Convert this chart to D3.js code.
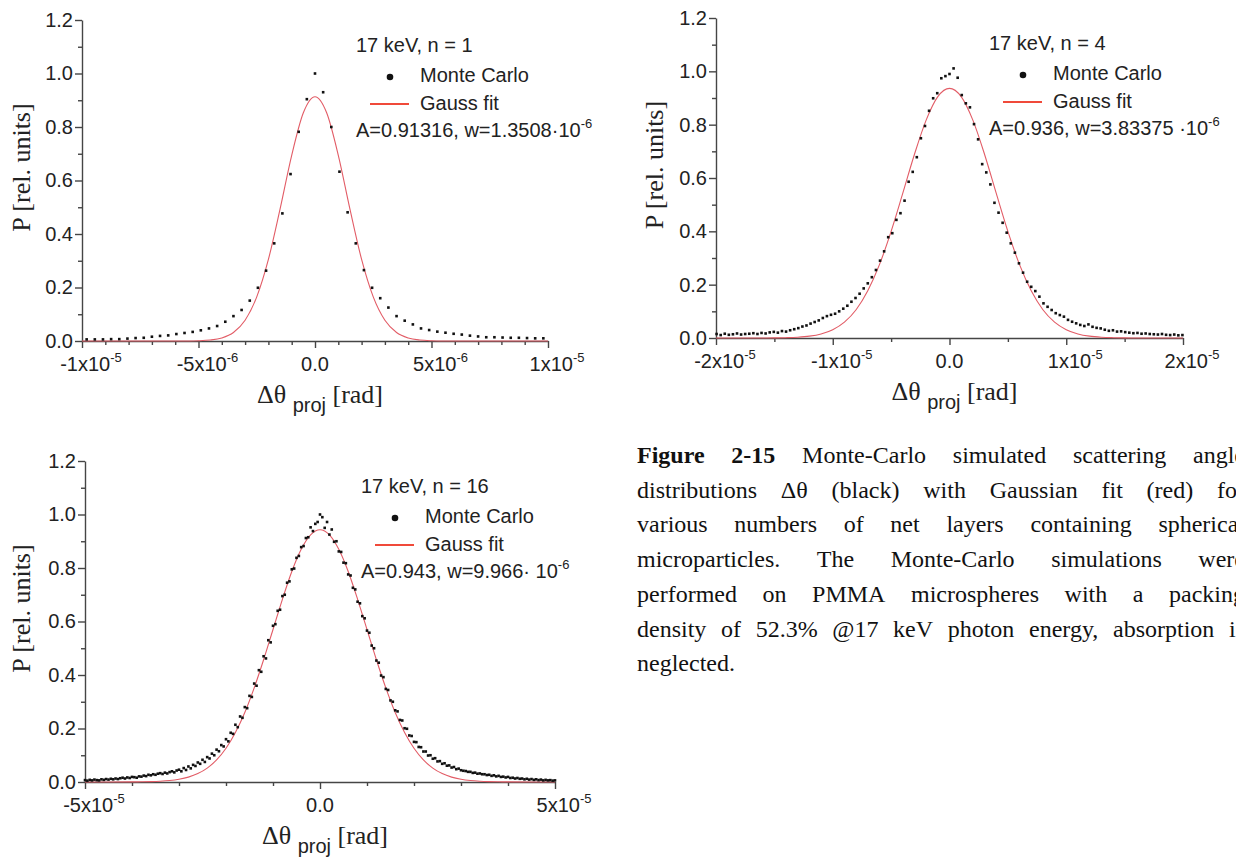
<!DOCTYPE html>
<html>
<head>
<meta charset="utf-8">
<script src="https://cdn.jsdelivr.net/npm/d3@7"></script>
<style>
  html, body { margin: 0; padding: 0; background: #fff; }
  svg { display: block; }
</style>
</head>
<body>
<svg id="fig" width="1236" height="857"></svg>
<script>
/* Monte-Carlo Streuwinkelverteilungen (3 Panels) + Bildunterschrift */

// ---------- Daten ----------
// Monte-Carlo Histogramme: Bins symmetrisch um 0, Schrittweite in rad
const mcStep1 = 0.35e-6;
const mc1Y = [0.006,0.006,0.006,0.007,0.007,0.009,0.011,0.012,0.016,0.019,
  0.021,0.026,0.030,0.034,0.040,0.047,0.056,0.072,0.093,0.116,
  0.151,0.199,0.263,0.365,0.477,0.624,0.782,0.904,
  1.000,
  0.930,0.800,0.633,0.481,0.365,0.265,0.199,0.160,0.125,0.093,
  0.076,0.062,0.047,0.041,0.035,0.031,0.027,0.024,0.020,0.017,
  0.014,0.014,0.013,0.012,0.012,0.011,0.010,0.010];

const mcStep2 = 0.35e-6;
const mc2Y = [0.015,0.011,0.016,0.012,0.014,0.017,0.013,0.015,0.016,0.018,
  0.015,0.019,0.017,0.021,0.023,0.020,0.026,0.024,0.029,0.033,
  0.037,0.043,0.047,0.054,0.060,0.066,0.075,0.082,0.087,0.091,
  0.100,0.110,0.121,0.136,0.150,0.166,0.186,0.205,0.228,0.255,
  0.290,0.325,0.378,0.393,0.443,0.468,0.515,0.586,0.623,0.678,
  0.749,0.795,0.852,0.899,0.918,0.974,0.982,
  0.990,1.011,0.976,0.911,0.880,0.865,0.802,0.745,0.652,0.621,
  0.576,0.507,0.470,0.432,0.395,0.355,0.320,0.280,0.245,0.211,
  0.192,0.176,0.155,0.130,0.117,0.105,0.093,0.086,0.080,0.068,
  0.061,0.055,0.049,0.045,0.051,0.042,0.038,0.036,0.031,0.027,
  0.029,0.024,0.025,0.022,0.020,0.018,0.019,0.016,0.017,0.015,
  0.014,0.013,0.015,0.012,0.011,0.013,0.010,0.011];

const mcStep3 = 0.5e-6;
const mc3Y = [0.007,0.005,0.008,0.006,0.009,0.007,0.006,0.010,0.008,0.011,
  0.009,0.012,0.010,0.013,0.011,0.014,0.016,0.013,0.017,0.015,
  0.019,0.018,0.016,0.021,0.020,0.024,0.022,0.027,0.025,0.029,
  0.027,0.031,0.033,0.030,0.035,0.032,0.037,0.040,0.036,0.043,
  0.046,0.040,0.052,0.045,0.058,0.051,0.064,0.060,0.073,0.068,
  0.083,0.075,0.093,0.088,0.106,0.100,0.121,0.115,0.138,0.133,
  0.160,0.152,0.184,0.180,0.214,0.205,0.245,0.240,0.280,0.276,
  0.322,0.318,0.368,0.360,0.418,0.412,0.470,0.462,0.530,0.522,
  0.584,0.590,0.640,0.644,0.695,0.700,0.745,0.750,0.795,0.798,
  0.838,0.845,0.878,0.882,0.912,0.915,0.952,0.938,0.965,0.972,
  1.000,
  0.990,0.950,0.972,0.925,0.944,0.898,0.900,0.862,0.860,0.820,
  0.818,0.776,0.772,0.726,0.720,0.674,0.668,0.620,0.612,0.566,
  0.558,0.510,0.500,0.454,0.446,0.398,0.392,0.348,0.344,0.305,
  0.300,0.268,0.264,0.232,0.230,0.201,0.199,0.174,0.172,0.150,
  0.149,0.131,0.130,0.114,0.114,0.099,0.100,0.087,0.089,0.077,
  0.078,0.068,0.070,0.061,0.062,0.054,0.056,0.048,0.050,0.044,
  0.042,0.041,0.038,0.038,0.034,0.035,0.031,0.032,0.029,0.029,
  0.026,0.027,0.023,0.025,0.021,0.023,0.019,0.020,0.017,0.019,
  0.015,0.016,0.013,0.015,0.012,0.013,0.010,0.012,0.009,0.011,
  0.008,0.010,0.007,0.009,0.006,0.008,0.006,0.007,0.005,0.006];

// Gauss-Fit Kurven
const fit1X = [-10e-6,-6e-6,-5.5e-6,-5e-6,-4.5e-6,-4e-6,-3.5e-6,-3e-6,-2.5e-6,-2e-6,-1.5e-6,-1e-6,-0.5e-6,0,
  0.5e-6,1e-6,1.5e-6,2e-6,2.5e-6,3e-6,3.5e-6,4e-6,4.5e-6,5e-6,5.5e-6,6e-6,10e-6];
const fit1Y = [0,0,0.0002,0.001,0.0036,0.0114,0.0318,0.0776,0.165,0.305,0.493,0.694,0.853,0.913,
  0.853,0.694,0.493,0.305,0.165,0.0776,0.0318,0.0114,0.0036,0.001,0.0002,0,0];

const fit2X = [-20e-6,-16e-6,-15e-6,-14e-6,-13e-6,-12e-6,-11e-6,-10e-6,-9e-6,-8e-6,-7e-6,-6e-6,-5e-6,-4e-6,-3e-6,-2e-6,-1e-6,0,
  1e-6,2e-6,3e-6,4e-6,5e-6,6e-6,7e-6,8e-6,9e-6,10e-6,11e-6,12e-6,13e-6,14e-6,15e-6,16e-6,20e-6];
const fit2Y = [0,0,0.0004,0.0012,0.003,0.007,0.0153,0.0312,0.0595,0.106,0.177,0.275,0.400,0.543,0.689,0.817,0.905,0.936,
  0.905,0.817,0.689,0.543,0.400,0.275,0.177,0.106,0.0595,0.0312,0.0153,0.007,0.003,0.0012,0.0004,0,0];

const fit3X = [-50e-6,-40e-6,-38e-6,-36e-6,-34e-6,-32e-6,-30e-6,-28e-6,-26e-6,-24e-6,-22e-6,-20e-6,-18e-6,-16e-6,-14e-6,-12e-6,-10e-6,-8e-6,-6e-6,-4e-6,-2e-6,0,
  2e-6,4e-6,6e-6,8e-6,10e-6,12e-6,14e-6,16e-6,18e-6,20e-6,22e-6,24e-6,26e-6,28e-6,30e-6,32e-6,34e-6,36e-6,38e-6,40e-6,50e-6];
const fit3Y = [0,0.0003,0.0007,0.0014,0.0028,0.0054,0.0102,0.0182,0.0314,0.052,0.0825,0.126,0.185,0.260,0.352,0.457,0.570,0.683,0.787,0.870,0.924,0.943,
  0.924,0.870,0.787,0.683,0.570,0.457,0.352,0.260,0.185,0.126,0.0825,0.052,0.0314,0.0182,0.0102,0.0054,0.0028,0.0014,0.0007,0.0003,0];

// Achsenbeschriftungen
const yTicks = [0, 0.2, 0.4, 0.6, 0.8, 1.0, 1.2];
const xTicks1 = [-1e-5, -5e-6, 0, 5e-6, 1e-5];
const xBase1 = ["-1x10", "-5x10", "0.0", "5x10", "1x10"];
const xExp1 = ["-5", "-6", "", "-6", "-5"];
const xTicks2 = [-2e-5, -1e-5, 0, 1e-5, 2e-5];
const xBase2 = ["-2x10", "-1x10", "0.0", "1x10", "2x10"];
const xExp2 = ["-5", "-5", "", "-5", "-5"];
const xTicks3 = [-5e-5, 0, 5e-5];
const xBase3 = ["-5x10", "0.0", "5x10"];
const xExp3 = ["-5", "", "-5"];

const legendTitles = ["17 keV, n = 1", "17 keV, n = 4", "17 keV, n = 16"];
const paramText = ["A=0.91316, w=1.3508\u00b710", "A=0.936, w=3.83375 \u00b710", "A=0.943, w=9.966\u00b7 10"];
const paramExp = ["-6", "-6", "-6"];

const captionLines = [
  "Figure 2-15 Monte-Carlo simulated scattering angle",
  "distributions \u0394\u03b8 (black) with Gaussian fit (red) for",
  "various numbers of net layers containing spherical",
  "microparticles. The Monte-Carlo simulations were",
  "performed on PMMA microspheres with a packing",
  "density of 52.3% @17 keV photon energy, absorption is",
  "neglected."
];

// ---------- Layout ----------
const SANS = "'Liberation Sans', Arial, Helvetica, sans-serif";
const SERIF = "'Liberation Serif', 'Times New Roman', Times, serif";
const AXIS_COL = "#454545";
const FIT_COL = "#e25c66";

const panels = [
  { left: 82, right: 548, bottom: 341, top: 20, dom: [-1e-5, 1e-5], minorN: 20,
    ticks: xTicks1, base: xBase1, exp: xExp1, mc: mc1Y, step: mcStep1, fx: fit1X, fy: fit1Y,
    lx: 356, ly: 52, ytx: 30 },
  { left: 716, right: 1183, bottom: 338, top: 18, dom: [-2e-5, 2e-5], minorN: 8,
    ticks: xTicks2, base: xBase2, exp: xExp2, mc: mc2Y, step: mcStep2, fx: fit2X, fy: fit2Y,
    lx: 989, ly: 50, ytx: 663 },
  { left: 85, right: 555, bottom: 782, top: 461, dom: [-5e-5, 5e-5], minorN: 10,
    ticks: xTicks3, base: xBase3, exp: xExp3, mc: mc3Y, step: mcStep3, fx: fit3X, fy: fit3Y,
    lx: 361, ly: 493, ytx: 30 }
];

const svg = d3.select("#fig");
svg.append("rect").attr("width", 1236).attr("height", 857).attr("fill", "#fff");

panels.forEach((p, k) => {
  const x = d3.scaleLinear().domain(p.dom).range([p.left, p.right]);
  const y = d3.scaleLinear().domain([0, 1.2]).range([p.bottom, p.top]);
  const g = svg.append("g");

  const isMajor = v => p.ticks.some(t => Math.abs(t - v) < 1e-12);
  const xMinor = x.ticks(p.minorN).filter(v => !isMajor(v));
  const yMinor = y.ticks(12).filter(v => !yTicks.some(t => Math.abs(t - v) < 1e-9));

  // x-Achse
  const gxm = g.append("g").attr("transform", `translate(0,${p.bottom})`)
    .call(d3.axisBottom(x).tickValues(xMinor).tickSize(4).tickFormat(""));
  gxm.select(".domain").remove();
  g.append("g").attr("transform", `translate(0,${p.bottom})`)
    .call(d3.axisBottom(x).tickValues(p.ticks).tickSize(7).tickSizeOuter(0).tickFormat(""));

  // y-Achse
  const gym = g.append("g").attr("transform", `translate(${p.left},0)`)
    .call(d3.axisLeft(y).tickValues(yMinor).tickSize(4).tickFormat(""));
  gym.select(".domain").remove();
  const gy = g.append("g").attr("transform", `translate(${p.left},0)`)
    .call(d3.axisLeft(y).tickValues(yTicks).tickSize(7).tickSizeOuter(0).tickPadding(2)
      .tickFormat(d3.format(".1f")));
  gy.selectAll("text").attr("font-family", SANS).attr("font-size", 20).attr("fill", "#222");

  g.selectAll(".domain, .tick line").attr("stroke", AXIS_COL).attr("stroke-width", 1.4);

  // x Tick-Labels mit Exponent
  const xl = g.append("g").selectAll("text").data(p.ticks).join("text")
    .attr("x", (d, i) => x(d) + (p.exp[i] ? 9 : 0))
    .attr("y", p.bottom + 30)
    .attr("text-anchor", "middle")
    .attr("font-family", SANS).attr("font-size", 20).attr("fill", "#222");
  xl.append("tspan").text((d, i) => p.base[i]);
  xl.filter((d, i) => p.exp[i]).append("tspan")
    .attr("dy", -9).attr("font-size", 13).text(d => p.exp[p.ticks.indexOf(d)]);

  // Gauss-Fit
  const line = d3.line().x(d => x(d[0])).y(d => y(d[1])).curve(d3.curveMonotoneX);
  g.append("path").datum(d3.zip(p.fx, p.fy))
    .attr("d", line).attr("fill", "none").attr("stroke", FIT_COL).attr("stroke-width", 1.1);

  // Monte-Carlo Punkte
  const half = (p.mc.length - 1) / 2;
  g.append("g").selectAll("rect").data(p.mc).join("rect")
    .attr("x", (d, i) => x((i - half) * p.step) - 1.3)
    .attr("y", d => y(d) - 1.3)
    .attr("width", 2.6).attr("height", 2.6)
    .attr("fill", "#111");

  // Achsentitel
  const xt = g.append("text")
    .attr("x", (p.left + p.right) / 2 + 5).attr("y", p.bottom + 62)
    .attr("text-anchor", "middle").attr("font-family", SERIF).attr("font-size", 26).attr("fill", "#222");
  xt.append("tspan").text("\u0394\u03b8 ");
  xt.append("tspan").attr("font-family", SANS).attr("font-size", 20).attr("dy", 9).text("proj");
  xt.append("tspan").attr("dy", -9).text(" [rad]");

  g.append("text")
    .attr("transform", `translate(${p.ytx},${(p.top + p.bottom) / 2 - 13}) rotate(-90)`)
    .attr("text-anchor", "middle").attr("font-family", SERIF).attr("font-size", 26).attr("fill", "#222")
    .text("P [rel. units]");

  // Legende
  const lg = g.append("g").attr("font-family", SANS).attr("font-size", 20).attr("fill", "#222");
  lg.append("text").attr("x", p.lx).attr("y", p.ly).text(legendTitles[k]);
  lg.append("circle").attr("cx", p.lx + 34).attr("cy", p.ly + 25).attr("r", 3.3).attr("fill", "#111");
  lg.append("text").attr("x", p.lx + 64).attr("y", p.ly + 30).text("Monte Carlo");
  lg.append("line").attr("x1", p.lx + 14).attr("x2", p.lx + 53)
    .attr("y1", p.ly + 52).attr("y2", p.ly + 52).attr("stroke", "#f04a3a").attr("stroke-width", 2);
  lg.append("text").attr("x", p.lx + 64).attr("y", p.ly + 58).text("Gauss fit");
  const pt = lg.append("text").attr("x", p.lx).attr("y", p.ly + 85);
  pt.append("tspan").text(paramText[k]);
  pt.append("tspan").attr("dy", -9).attr("font-size", 13).text(paramExp[k]);
});

// ---------- Bildunterschrift (Blocksatz, rechts vom Bildrand angeschnitten wie im Original) ----------
const capLeft = 637, capRight = 1245, capTop = 463, capLead = 34.7;
captionLines.forEach((ln, i) => {
  const words = ln.split(" ");
  const t = svg.append("text").attr("y", capTop + i * capLead)
    .attr("font-family", SERIF).attr("font-size", 24).attr("fill", "#111");
  const spans = words.map((w, j) => t.append("tspan")
    .attr("font-weight", i === 0 && j < 2 ? "bold" : null).text(w));
  const widths = spans.map(s => s.node().getComputedTextLength());
  const last = i === captionLines.length - 1;
  const gap = last || words.length < 2 ? 6
    : (capRight - capLeft - d3.sum(widths)) / (words.length - 1);
  let cx = capLeft;
  spans.forEach((s, j) => { s.attr("x", cx); cx += widths[j] + gap; });
});
</script>
</body>
</html>
